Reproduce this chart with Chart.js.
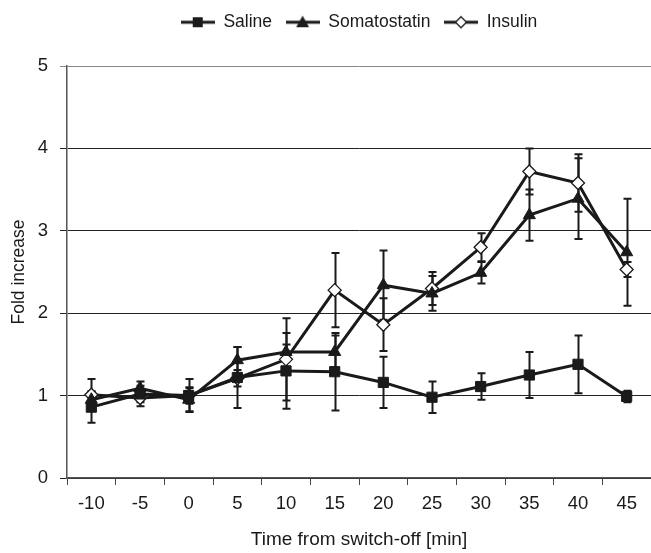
<!DOCTYPE html>
<html>
<head>
<meta charset="utf-8">
<script src="https://cdn.jsdelivr.net/npm/chart.js@4"></script>
<style>
  html, body { margin: 0; padding: 0; background: #fff; overflow: hidden; }
  canvas { display: block; }
</style>
</head>
<body>
<canvas id="chart" width="651" height="553"></canvas>
<script>
// time points (min), one category each
const timeLabels = ['-10', '-5', '0', '5', '10', '15', '20', '25', '30', '35', '40', '45'];

// mean fold increase and error (+/-) per series
const salineValues = [0.86, 1.02, 1.00, 1.22, 1.30, 1.29, 1.16, 0.98, 1.11, 1.25, 1.38, 0.99];
const salineErrors = [0.19, 0.10, 0.20, 0.37, 0.46, 0.47, 0.31, 0.19, 0.16, 0.28, 0.35, 0.07];

const somatostatinValues = [0.95, 1.09, 0.95, 1.43, 1.53, 1.53, 2.34, 2.24, 2.49, 3.19, 3.39, 2.74];
const somatostatinErrors = [0.10, 0.08, 0.14, 0.16, 0.09, 0.20, 0.42, 0.21, 0.13, 0.31, 0.49, 0.65];

const insulinValues = [1.01, 0.97, 1.00, 1.21, 1.44, 2.28, 1.86, 2.30, 2.80, 3.72, 3.58, 2.53];
const insulinErrors = [0.19, 0.10, 0.10, 0.10, 0.50, 0.45, 0.32, 0.20, 0.17, 0.28, 0.35, 0.09];

const INK = '#1a1a1a';
const FONT = "'Liberation Sans', Arial, sans-serif";

// legend icon: short line with the marker in the middle
function legendIcon(style) {
    const c = document.createElement('canvas');
    c.width = 34; c.height = 16;
    const g = c.getContext('2d');
    g.strokeStyle = INK;
    g.lineWidth = 3;
    g.beginPath(); g.moveTo(0, 8); g.lineTo(34, 8); g.stroke();
    g.fillStyle = INK;
    g.beginPath();
    if (style === 'rect') {
        g.rect(12, 3, 10, 10);
        g.fill();
    } else if (style === 'triangle') {
        g.moveTo(17, 1.5); g.lineTo(23.5, 13); g.lineTo(10.5, 13); g.closePath();
        g.fill();
    } else {
        g.lineWidth = 1.3;
        g.fillStyle = '#fff';
        g.moveTo(17, 2.5); g.lineTo(22.5, 8); g.lineTo(17, 13.5); g.lineTo(11.5, 8); g.closePath();
        g.fill(); g.stroke();
    }
    return c;
}

// error bars drawn below the markers
const errorBars = {
    id: 'errorBars',
    beforeDatasetsDraw(chart) {
        const ctx = chart.ctx;
        const yScale = chart.scales.y;
        ctx.save();
        ctx.strokeStyle = INK;
        ctx.lineWidth = 2;
        chart.data.datasets.forEach((ds, i) => {
            const meta = chart.getDatasetMeta(i);
            meta.data.forEach((pt, j) => {
                const v = ds.data[j], e = ds.errors[j];
                const top = yScale.getPixelForValue(v + e);
                const bot = yScale.getPixelForValue(v - e);
                const x = Math.round(pt.x) + 0.5;
                ctx.beginPath();
                ctx.moveTo(x, top); ctx.lineTo(x, bot);
                ctx.moveTo(x - 4, top); ctx.lineTo(x + 4, top);
                ctx.moveTo(x - 4, bot); ctx.lineTo(x + 4, bot);
                ctx.stroke();
            });
        });
        ctx.restore();
    }
};

// extra room under the legend
const legendGap = {
    id: 'legendGap',
    beforeInit(chart) {
        const fit = chart.legend.fit;
        chart.legend.fit = function () {
            fit.bind(chart.legend)();
            this.height += 25;
        };
    }
};

const baseSeries = {
    borderColor: INK,
    borderWidth: 3,
    tension: 0,
    pointBorderColor: INK,
    pointBorderWidth: 1
};

new Chart(document.getElementById('chart'), {
    type: 'line',
    data: {
        labels: timeLabels,
        datasets: [
            Object.assign({}, baseSeries, {
                label: 'Saline', data: salineValues, errors: salineErrors,
                pointStyle: 'rect', pointRadius: 7.2, pointBackgroundColor: INK,
                legendIcon: legendIcon('rect')
            }),
            Object.assign({}, baseSeries, {
                label: 'Somatostatin', data: somatostatinValues, errors: somatostatinErrors,
                pointStyle: 'triangle', pointRadius: 7, pointBackgroundColor: INK,
                legendIcon: legendIcon('triangle')
            }),
            Object.assign({}, baseSeries, {
                label: 'Insulin', data: insulinValues, errors: insulinErrors,
                pointStyle: 'rectRot', pointRadius: 6.5, pointBackgroundColor: '#fff',
                pointBorderWidth: 1.3,
                legendIcon: legendIcon('diamond')
            })
        ]
    },
    options: {
        responsive: false,
        animation: false,
        layout: { autoPadding: false, padding: { top: 0, right: 0, left: 0, bottom: 2 } },
        plugins: {
            tooltip: { enabled: false },
            legend: {
                position: 'top',
                fullSize: false,
                labels: {
                    usePointStyle: true,
                    pointStyleWidth: 34,
                    boxHeight: 16,
                    padding: 13.5,
                    color: INK,
                    font: { family: FONT, size: 17.5 },
                    generateLabels(chart) {
                        return chart.data.datasets.map((ds, i) => ({
                            text: ds.label,
                            pointStyle: ds.legendIcon,
                            datasetIndex: i,
                            fillStyle: INK,
                            strokeStyle: INK,
                            lineWidth: 0,
                            fontColor: INK
                        }));
                    }
                }
            }
        },
        scales: {
            x: {
                offset: true,
                border: { color: '#555', width: 1.5 },
                grid: { offset: true, drawOnChartArea: false, color: '#444', tickLength: 7 },
                ticks: { color: INK, font: { family: FONT, size: 18.5 }, padding: 8 },
                title: {
                    display: true, text: 'Time from switch-off [min]', color: INK,
                    font: { family: FONT, size: 19 }, padding: { top: 5, bottom: 0 }
                },
                afterFit(scale) {
                    scale.paddingLeft = 0;
                    scale.paddingRight = 0;
                }
            },
            y: {
                min: 0, max: 5,
                border: { color: '#555', width: 1.5 },
                grid: {
                    color: (c) => c.tick && c.tick.value === 5 ? '#888' : '#222',
                    tickLength: 7
                },
                ticks: { stepSize: 1, color: INK, font: { family: FONT, size: 18.5 }, padding: 12 },
                title: {
                    display: true, text: 'Fold increase', color: INK,
                    font: { family: FONT, size: 17.5 }, padding: { top: 9, bottom: 0 }
                },
                afterFit(scale) {
                    scale.width = 67;
                }
            }
        }
    },
    plugins: [errorBars, legendGap]
});
</script>
</body>
</html>
